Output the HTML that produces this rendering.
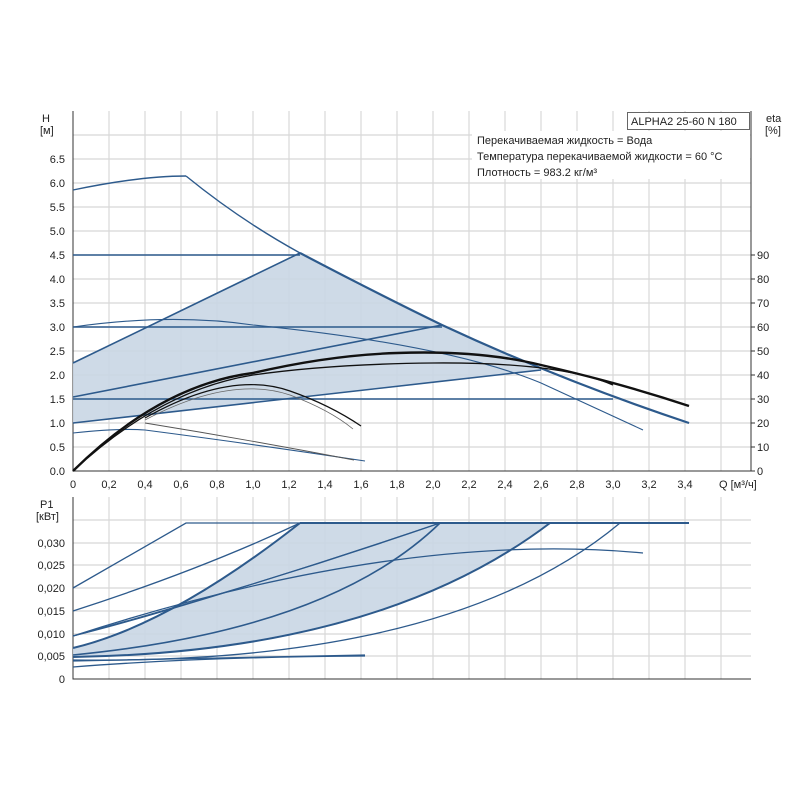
<!DOCTYPE html>
<html><head><meta charset="utf-8"><style>
body{margin:0;background:#fff;width:800px;height:800px;overflow:hidden}
svg text{font-family:"Liberation Sans",sans-serif;font-size:11px;fill:#222}
</style></head><body>
<svg width="800" height="800" viewBox="0 0 800 800" xmlns="http://www.w3.org/2000/svg">
<g stroke="#d8d8d8" stroke-width="1.2" fill="none">
<path d="M109,111V471M145,111V471M181,111V471M217,111V471M253,111V471M289,111V471M325,111V471M361,111V471M397,111V471M433,111V471M469,111V471M505,111V471M541,111V471M577,111V471M613,111V471M649,111V471M685,111V471M721,111V471"/>
<path d="M73,447H751M73,423H751M73,399H751M73,375H751M73,351H751M73,327H751M73,303H751M73,279H751M73,255H751M73,231H751M73,207H751M73,183H751M73,159H751M73,135H751"/>
<path d="M109,497V679M145,497V679M181,497V679M217,497V679M253,497V679M289,497V679M325,497V679M361,497V679M397,497V679M433,497V679M469,497V679M505,497V679M541,497V679M577,497V679M613,497V679M649,497V679M685,497V679M721,497V679"/>
<path d="M73,656H751M73,634H751M73,611H751M73,588H751M73,565H751M73,543H751M73,520H751"/>
</g>
<rect x="472" y="131" width="278" height="48" fill="#fff"/>
<path d="M73,111V471H751V111" stroke="#333" fill="none"/>
<path d="M73,497V679H751" stroke="#333" fill="none"/>
<polygon points="73,363 300,253 361,286 442,325 541,370 397,387 73,423" fill="#c9d6e4" opacity="0.9"/>
<g fill="none" stroke="#2d5a8c" stroke-width="1.6">
<path d="M73,190Q140,176 186,176" stroke-width="1.4"/>
<path d="M186,176Q240,220 300,253Q380,295 442,325Q560,380 689,423" stroke-width="1.4"/>
<path d="M300,253Q380,295 442,325Q560,380 689,423" stroke-width="2.2"/>
<path d="M73,255H300M73,327H442M73,399H613"/>
<path d="M73,363L300,253M73,397L442,325M73,423L541,370"/>
<path stroke-width="1.1" d="M73,327Q170,313 253,325Q450,345 541,383Q600,410 643,430"/>
<path stroke-width="1.1" d="M73,433Q120,428 145,430Q260,445 365,461"/>
</g>
<g fill="none" stroke="#111">
<path stroke-width="2.4" d="M73,471Q160,385 253,373Q330,355 397,353Q480,350 541,365Q620,383 689,406"/>
<path stroke-width="1.3" d="M73,471Q160,390 253,375Q330,364 433,363Q560,362 613,385"/>
<path stroke-width="1.2" d="M145,418Q230,370 290,391Q330,405 361,426"/>
<path stroke-width="0.8" stroke="#666" d="M145,420Q230,375 290,395Q330,410 353,429"/>
<path stroke-width="0.9" stroke="#555" d="M145,423Q250,440 354,460"/>
</g>
<path d="M73,648Q170,625 300,523H550Q380,650 73,657Z" fill="#c9d6e4" opacity="0.9"/>
<g fill="none" stroke="#2d5a8c" stroke-width="1.3">
<path d="M73,588L186,523H689"/>
<path d="M300,523H689" stroke-width="2"/>
<path d="M73,611Q200,570 300,523"/>
<path d="M73,648Q170,625 300,523" stroke-width="2"/>
<path d="M73,636Q260,585 440,523"/>
<path d="M73,636Q180,610 440,523" stroke-width="1"/>
<path d="M73,655Q330,630 440,523" stroke-width="1.6"/>
<path d="M73,657Q380,652 550,523" stroke-width="2"/>
<path d="M73,660Q450,665 620,523"/>
<path d="M73,636Q400,530 643,553"/>
<path d="M73,667Q200,657 365,656"/>
<path d="M73,661Q200,658 365,655"/>
</g>
<rect x="627.5" y="112.5" width="122" height="17" fill="#fff" stroke="#666"/>
<text x="631" y="125" font-size="11">ALPHA2 25-60 N 180</text>
<text x="477" y="144">Перекачиваемая жидкость = Вода</text>
<text x="477" y="160">Температура перекачиваемой жидкости = 60 °C</text>
<text x="477" y="176">Плотность = 983.2 кг/м³</text>
<text x="42" y="122">H</text><text x="40" y="134" font-size="10">[м]</text>
<text x="766" y="122">eta</text><text x="765" y="134" font-size="10">[%]</text>
<g text-anchor="end">
<text x="65" y="475">0.0</text><text x="65" y="451">0.5</text><text x="65" y="427">1.0</text><text x="65" y="403">1.5</text><text x="65" y="379">2.0</text><text x="65" y="355">2.5</text><text x="65" y="331">3.0</text><text x="65" y="307">3.5</text><text x="65" y="283">4.0</text><text x="65" y="259">4.5</text><text x="65" y="235">5.0</text><text x="65" y="211">5.5</text><text x="65" y="187">6.0</text><text x="65" y="163">6.5</text>
<text x="65" y="683">0</text><text x="65" y="660">0,005</text><text x="65" y="638">0,010</text><text x="65" y="615">0,015</text><text x="65" y="592">0,020</text><text x="65" y="569">0,025</text><text x="65" y="547">0,030</text>
</g>
<text x="40" y="508">P1</text><text x="36" y="520" font-size="10">[кВт]</text>
<g>
<text x="757" y="475">0</text><text x="757" y="451">10</text><text x="757" y="427">20</text><text x="757" y="403">30</text><text x="757" y="379">40</text><text x="757" y="355">50</text><text x="757" y="331">60</text><text x="757" y="307">70</text><text x="757" y="283">80</text><text x="757" y="259">90</text>
</g>
<g stroke="#333"><path d="M751,471h4M751,447h4M751,423h4M751,399h4M751,375h4M751,351h4M751,327h4M751,303h4M751,279h4M751,255h4"/></g>
<g text-anchor="middle">
<text x="73" y="488">0</text><text x="109" y="488">0,2</text><text x="145" y="488">0,4</text><text x="181" y="488">0,6</text><text x="217" y="488">0,8</text><text x="253" y="488">1,0</text><text x="289" y="488">1,2</text><text x="325" y="488">1,4</text><text x="361" y="488">1,6</text><text x="397" y="488">1,8</text><text x="433" y="488">2,0</text><text x="469" y="488">2,2</text><text x="505" y="488">2,4</text><text x="541" y="488">2,6</text><text x="577" y="488">2,8</text><text x="613" y="488">3,0</text><text x="649" y="488">3,2</text><text x="685" y="488">3,4</text>
</g>
<text x="719" y="488" font-size="10">Q [м³/ч]</text>
</svg>
</body></html>
